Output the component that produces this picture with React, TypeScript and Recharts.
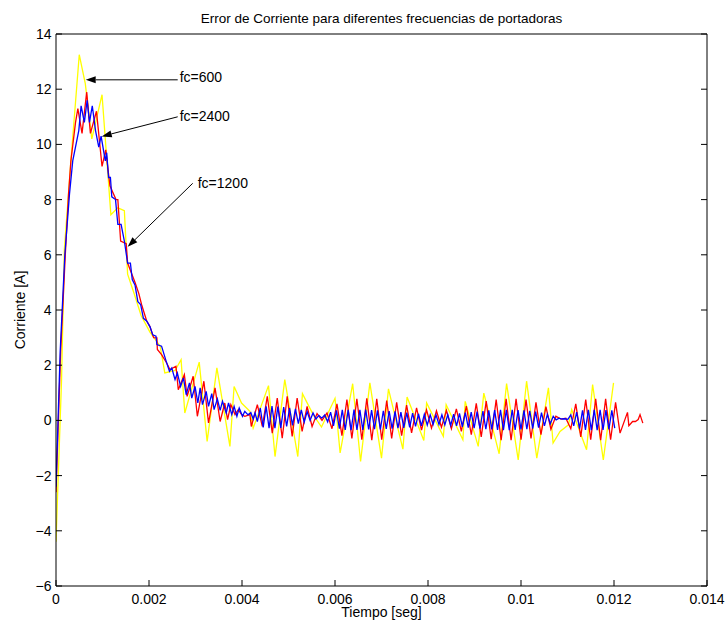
import React from 'react';
import { LineChart, Line, XAxis, YAxis, ReferenceLine } from 'recharts';

const FONT = '"Liberation Sans", Arial, Helvetica, sans-serif';

const TITLE = 'Error de Corriente para diferentes frecuencias de portadoras';
const X_LABEL = 'Tiempo [seg]';
const Y_LABEL = 'Corriente [A]';

const xTicks = [0, 0.002, 0.004, 0.006, 0.008, 0.01, 0.012, 0.014];
const xTickLabels = ['0', '0.002', '0.004', '0.006', '0.008', '0.01', '0.012', '0.014'];
const yTicks = [-6, -4, -2, 0, 2, 4, 6, 8, 10, 12, 14];
const yTickLabels = ['\u22126', '\u22124', '\u22122', '0', '2', '4', '6', '8', '10', '12', '14'];

// fc = 600 (yellow): vertices, time in microseconds, current in A
const yellowTimeUs = [0, 120, 180, 320, 500, 630, 770, 990, 1180, 1330, 1470, 1540, 1680, 1830, 2020, 2240, 2340, 2560, 2690, 2770, 3080, 3250, 3460, 3740, 3830, 3990, 4170, 4240, 4570, 4710, 4920, 5200, 5300, 5530, 5710, 6000, 6110, 6380, 6550, 6750, 7000, 7150, 7460, 7550, 7910, 7970, 8330, 8390, 8750, 8800, 9080, 9200, 9530, 9690, 9940, 10120, 10340, 10590, 10690, 10840, 11020, 11090, 11410, 11540, 11770, 11990];
const yellowCurrent = [-4.4, 1.5, 6.2, 9.4, 13.25, 12.2, 10.2, 11.8, 7.45, 7.7, 7.6, 5.3, 4.6, 3.8, 3.2, 2.69, 1.72, 1.81, 2.2, 0.27, 2.11, -0.76, 1.9, -0.94, 1.23, 0.63, 0.33, -0.28, 1.26, -1.31, 1.48, -1.31, 0.97, 0.21, -0.24, 0.8, -1.18, 1.33, -1.49, 1.36, -1.37, 1.14, -1.04, 0.85, -0.73, 0.63, -0.58, 0.57, -0.7, 0.69, -0.94, 0.99, -1.21, 1.33, -1.43, 1.42, -1.37, 1.18, -0.82, -0.4, -0.16, 0.39, -1.06, 1.3, -1.43, 1.36];

// fc = 1200 (red): transient vertices
const redTransTimeUs = [0, 100, 200, 270, 320, 420, 470, 560, 660, 740, 870, 990, 1070, 1160, 1290, 1330, 1390, 1510, 1540, 1700, 1780, 1840, 1950, 2020, 2100, 2170, 2180, 2270, 2380, 2450, 2580, 2630, 2760, 2820, 2950, 3040, 3180, 3280, 3420, 3530, 3630, 3690, 3760, 3850, 3920, 3990, 4060, 4170, 4200];
const redTransCurrent = [-2.6, 2.5, 6.0, 8.2, 9.4, 10.8, 11.3, 10.4, 11.9, 10.4, 11.2, 9.2, 9.8, 8.5, 8.0, 8.0, 6.5, 6.4, 5.7, 5.0, 4.6, 4.2, 3.6, 3.4, 3.0, 2.99, 2.57, 2.38, 2.08, 1.84, 1.96, 1.11, 1.66, 0.87, 1.6, 0.15, 1.42, -0.09, 1.18, -0.04, 0.63, 0.03, 0.57, 0.21, 0.39, 0.21, 0.15, 0.21, -0.22];
// red ripple, one vertex per switching half-period
const redRippleStartUs = 4330;
const redRippleStepUs = 107;
const redRippleCurrent = [
  0.57, -0.22, 0.87, -0.46, 0.81, -0.64, 0.87, -0.58, 0.81, -0.4,
  0.51, -0.22, 0.25, 0.0, 0.27, -0.3, 0.6, -0.55, 0.75, -0.65,
  0.78, -0.7, 0.8, -0.72, 0.78, -0.7, 0.72, -0.65, 0.65, -0.55,
  0.55, -0.45, 0.45, -0.35, 0.38, -0.28, 0.35, -0.25, 0.36, -0.3,
  0.42, -0.4, 0.52, -0.52, 0.62, -0.6, 0.7, -0.68, 0.75, -0.72,
  0.78, -0.72, 0.78, -0.7, 0.75, -0.65, 0.65, -0.52, 0.5, -0.32,
  0.15, 0.05, 0.08, -0.3, 0.6, -0.6, 0.75, -0.7, 0.78, -0.72,
  0.78, -0.7, 0.65];
const redTailTimeUs = [12130, 12290, 12320, 12400, 12460, 12520, 12560, 12620];
const redTailCurrent = [-0.46, 0.29, -0.19, -0.04, -0.04, 0.03, 0.21, -0.1];

// fc = 2400 (blue): transient vertices
const blueTransTimeUs = [0, 90, 190, 290, 360, 490, 540, 610, 670, 720, 780, 850, 920, 970, 1060, 1090, 1130, 1170, 1200, 1280, 1330, 1400, 1470, 1540, 1600, 1640, 1700, 1760, 1820, 1880, 1950, 2020, 2080, 2150, 2170, 2270, 2370, 2440, 2490, 2560, 2610, 2680, 2740, 2800, 2870, 2920, 2990, 3050, 3100, 3150, 3230, 3280, 3350, 3400, 3470, 3530, 3580, 3660, 3710, 3780, 3830, 3890, 3940, 4010, 4060, 4130, 4190, 4240, 4280];
const blueTransCurrent = [-2.4, 2.5, 6.0, 8.2, 9.4, 10.5, 11.4, 10.8, 11.6, 10.8, 11.4, 10.5, 9.9, 10.3, 9.4, 9.7, 8.8, 8.8, 8.1, 8.0, 7.1, 7.1, 6.5, 5.7, 5.7, 5.1, 4.9, 4.3, 4.2, 3.7, 3.6, 3.4, 3.1, 3.05, 2.75, 2.69, 2.14, 1.78, 1.9, 1.48, 1.72, 1.23, 1.54, 0.93, 1.36, 0.81, 1.23, 0.63, 1.18, 0.57, 1.05, 0.51, 0.97, 0.39, 0.78, 0.36, 0.69, 0.27, 0.63, 0.21, 0.51, 0.15, 0.45, 0.15, 0.33, 0.2, 0.28, 0.05, 0.27];
const blueRippleStartUs = 4330;
const blueRippleStepUs = 63;
const blueRippleCurrent = [
  -0.04, 0.45, -0.25, 0.51, -0.28, 0.52, -0.28, 0.5, -0.27, 0.48,
  -0.22, 0.45, -0.18, 0.42, -0.12, 0.38, -0.06, 0.32, 0.0, 0.27,
  0.05, 0.18, 0.08, 0.2, -0.05, 0.3, -0.2, 0.36, -0.3, 0.38,
  -0.34, 0.38, -0.35, 0.39, -0.34, 0.38, -0.34, 0.39, -0.33, 0.37,
  -0.32, 0.36, -0.33, 0.35, -0.31, 0.34, -0.3, 0.33, -0.28, 0.3,
  -0.27, 0.28, -0.25, 0.26, -0.22, 0.24, -0.2, 0.22, -0.17, 0.2,
  -0.15, 0.2, -0.15, 0.2, -0.16, 0.21, -0.18, 0.23, -0.2, 0.25,
  -0.23, 0.28, -0.26, 0.3, -0.28, 0.32, -0.3, 0.34, -0.32, 0.36,
  -0.33, 0.37, -0.34, 0.38, -0.35, 0.38, -0.35, 0.38, -0.34, 0.37,
  -0.33, 0.36, -0.32, 0.35, -0.3, 0.32, -0.26, 0.28, -0.2, 0.22,
  -0.12, 0.15, 0.02, 0.08, 0.05, 0.06, 0.04, 0.2, -0.2, 0.3,
  -0.3, 0.36, -0.34, 0.38, -0.35, 0.38, -0.35, 0.38, -0.34, 0.37,
  -0.33, 0.36, -0.28];

// annotations (data coordinates: seconds, amperes)
const annTexts = ['fc=600', 'fc=2400', 'fc=1200'];
const annTail = [[0.002617, 12.34], [0.002617, 11.0], [0.00294, 8.59]];
const annTip = [[0.000639, 12.34], [0.000983, 10.29], [0.001542, 6.29]];
const annTextDx = [2, 2, 5];
const annTextDy = [-3, -1, 0];

type Pt = { t: number; v: number };
const fromPairs = (tUs: number[], v: number[]): Pt[] => tUs.map((t, i) => ({ t: t / 1e6, v: v[i] }));
const fromRipple = (startUs: number, stepUs: number, v: number[]): Pt[] =>
  v.map((val, i) => ({ t: (startUs + i * stepUs) / 1e6, v: val }));

const yellowData = fromPairs(yellowTimeUs, yellowCurrent);
const redData = [
  ...fromPairs(redTransTimeUs, redTransCurrent),
  ...fromRipple(redRippleStartUs, redRippleStepUs, redRippleCurrent),
  ...fromPairs(redTailTimeUs, redTailCurrent),
];
const blueData = [
  ...fromPairs(blueTransTimeUs, blueTransCurrent),
  ...fromRipple(blueRippleStartUs, blueRippleStepUs, blueRippleCurrent),
];

const W = 726;
const H = 628;
const TICK = 6;
const FS = 14;

const BottomTick = (p: any) => {
  const i = xTicks.indexOf(p.payload.value);
  return (
    <g>
      <line x1={p.x} y1={p.y} x2={p.x} y2={p.y - TICK} stroke="#000" strokeWidth={1} />
      <text x={p.x} y={p.y + 12.5} textAnchor="middle" dominantBaseline="central" fontSize={FS} fontFamily={FONT} fill="#000">
        {i >= 0 ? xTickLabels[i] : String(p.payload.value)}
      </text>
    </g>
  );
};
const TopTick = (p: any) => (
  <line x1={p.x} y1={p.y} x2={p.x} y2={p.y + TICK} stroke="#000" strokeWidth={1} />
);
const LeftTick = (p: any) => {
  const i = yTicks.indexOf(p.payload.value);
  return (
    <g>
      <line x1={p.x} y1={p.y} x2={p.x + TICK} y2={p.y} stroke="#000" strokeWidth={1} />
      <text x={p.x - 4.5} y={p.y} textAnchor="end" dominantBaseline="central" fontSize={FS} fontFamily={FONT} fill="#000">
        {i >= 0 ? yTickLabels[i] : String(p.payload.value)}
      </text>
    </g>
  );
};
const RightTick = (p: any) => (
  <line x1={p.x} y1={p.y} x2={p.x - TICK} y2={p.y} stroke="#000" strokeWidth={1} />
);

const arrowShape = (idx: number) => (p: any) => {
  const { x1, y1, x2, y2 } = p;
  const ang = Math.atan2(y2 - y1, x2 - x1);
  const L = 10;
  const HW = 3.5;
  const bx = x2 - L * Math.cos(ang);
  const by = y2 - L * Math.sin(ang);
  const px = -Math.sin(ang) * HW;
  const py = Math.cos(ang) * HW;
  return (
    <g>
      <line x1={x1} y1={y1} x2={bx} y2={by} stroke="#000" strokeWidth={1} />
      <polygon points={`${x2},${y2} ${bx + px},${by + py} ${bx - px},${by - py}`} fill="#000" />
      <text x={x1 + annTextDx[idx]} y={y1 + annTextDy[idx]} dominantBaseline="central" fontSize={FS} fontFamily={FONT} fill="#000">
        {annTexts[idx]}
      </text>
    </g>
  );
};

export default function App() {
  return (
    <div style={{ position: 'fixed', left: 0, top: 0, width: W, height: H, background: '#fff' }}>
      <LineChart width={W} height={H} margin={{ top: 33, right: 18, bottom: 0, left: 0 }} style={{ fontFamily: FONT }}>
        <XAxis
          dataKey="t"
          type="number"
          domain={[0, 0.014]}
          ticks={xTicks}
          interval={0}
          height={42}
          tickSize={0}
          tickMargin={0}
          tickLine={false}
          axisLine={{ stroke: '#000', strokeWidth: 1 }}
          tick={<BottomTick />}
          allowDataOverflow
          label={(lp: any) => {
            const vb = lp.viewBox;
            return (
              <text x={vb.x + vb.width / 2} y={vb.y + 26} textAnchor="middle" dominantBaseline="central" fontSize={FS} fontFamily={FONT} fill="#000">
                {X_LABEL}
              </text>
            );
          }}
        />
        <XAxis
          xAxisId="top"
          orientation="top"
          type="number"
          domain={[0, 0.014]}
          ticks={xTicks}
          interval={0}
          height={1}
          tickSize={0}
          tickMargin={0}
          tickLine={false}
          axisLine={{ stroke: '#000', strokeWidth: 1 }}
          tick={<TopTick />}
          allowDataOverflow
          label={(lp: any) => {
            const vb = lp.viewBox;
            return (
              <text x={vb.x + vb.width / 2} y={vb.y - 15} textAnchor="middle" dominantBaseline="central" fontSize={13.5} fontFamily={FONT} fill="#000">
                {TITLE}
              </text>
            );
          }}
        />
        <YAxis
          type="number"
          domain={[-6, 14]}
          ticks={yTicks}
          interval={0}
          width={56}
          tickSize={0}
          tickMargin={0}
          tickLine={false}
          axisLine={{ stroke: '#000', strokeWidth: 1 }}
          tick={<LeftTick />}
          allowDataOverflow
          label={(lp: any) => {
            const vb = lp.viewBox;
            const cx = vb.x + 20;
            const cy = vb.y + vb.height / 2;
            return (
              <text x={cx} y={cy} transform={`rotate(-90 ${cx} ${cy})`} textAnchor="middle" dominantBaseline="central" fontSize={FS} fontFamily={FONT} fill="#000">
                {Y_LABEL}
              </text>
            );
          }}
        />
        <YAxis
          yAxisId="right"
          orientation="right"
          type="number"
          domain={[-6, 14]}
          ticks={yTicks}
          interval={0}
          width={1}
          tickSize={0}
          tickMargin={0}
          tickLine={false}
          axisLine={{ stroke: '#000', strokeWidth: 1 }}
          tick={<RightTick />}
          allowDataOverflow
        />
        <Line data={yellowData} dataKey="v" type="linear" stroke="#ffff00" strokeWidth={1.3} dot={false} activeDot={false} isAnimationActive={false} />
        <Line data={redData} dataKey="v" type="linear" stroke="#ff0000" strokeWidth={1.3} dot={false} activeDot={false} isAnimationActive={false} />
        <Line data={blueData} dataKey="v" type="linear" stroke="#0000ff" strokeWidth={1.3} dot={false} activeDot={false} isAnimationActive={false} />
        {annTexts.map((_, i) => (
          <ReferenceLine
            key={i}
            segment={[{ x: annTail[i][0], y: annTail[i][1] }, { x: annTip[i][0], y: annTip[i][1] }]}
            stroke="#000"
            ifOverflow="visible"
            shape={arrowShape(i)}
          />
        ))}
      </LineChart>
    </div>
  );
}
